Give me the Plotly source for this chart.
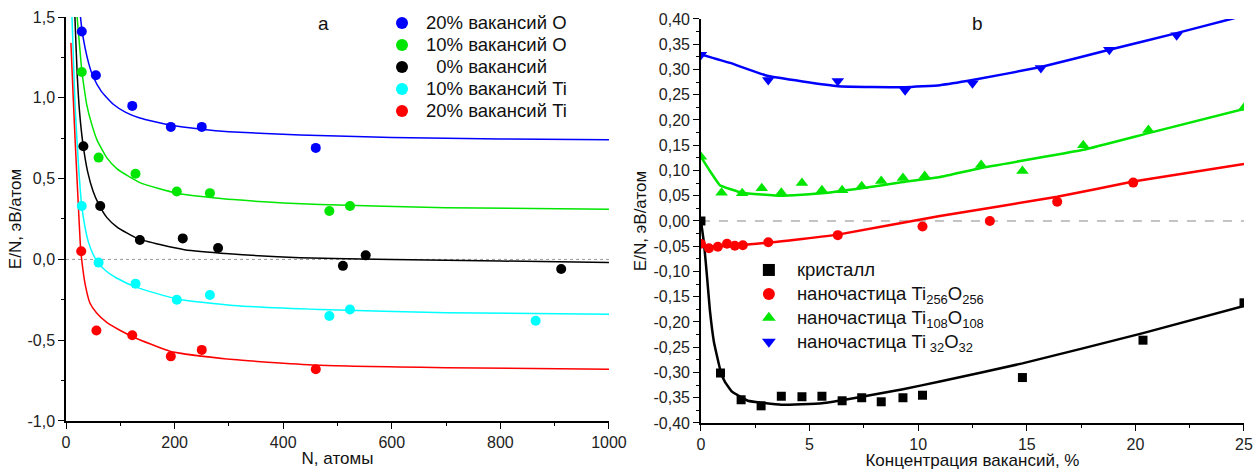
import plotly.graph_objects as go

# ---------------- Panel a: E/N vs N ----------------
a_names = ["20% вакансий O", "10% вакансий O", "\u00a0\u00a00% вакансий",
           "10% вакансий Ti", "20% вакансий Ti"]
a_colors = ["#0000FF", "#00E600", "#000000", "#00FFFF", "#FF0000"]

blue_N = [29, 55, 122, 193, 250, 460]
blue_E = [1.41, 1.14, 0.95, 0.82, 0.82, 0.69]
green_N = [29, 60, 128, 204, 265, 485, 523]
green_E = [1.16, 0.63, 0.53, 0.42, 0.41, 0.30, 0.33]
black_N = [32, 63, 136, 215, 280, 510, 552, 912]
black_E = [0.70, 0.33, 0.12, 0.13, 0.07, -0.04, 0.025, -0.06]
cyan_N = [29, 60, 128, 204, 265, 485, 523, 865]
cyan_E = [0.33, -0.02, -0.15, -0.25, -0.22, -0.35, -0.31, -0.38]
red_N = [28, 56, 122, 193, 250, 460]
red_E = [0.05, -0.44, -0.47, -0.60, -0.56, -0.68]

# fitted curves
blue_fit_N = [23, 26, 29, 35, 42, 50, 65, 87, 110, 136, 193, 250, 300, 431, 600, 800, 1000]
blue_fit_E = [1.62, 1.52, 1.43, 1.31, 1.21, 1.13, 1.04, 0.96, 0.91, 0.875, 0.83, 0.805, 0.79,
              0.77, 0.755, 0.745, 0.74]
green_fit_N = [19, 20.5, 24, 29, 33, 38, 47, 57, 75, 94, 136, 204, 308, 468, 700, 1000]
green_fit_E = [1.60, 1.50, 1.36, 1.17, 1.07, 0.96, 0.84, 0.74, 0.63, 0.56, 0.475, 0.41, 0.37,
               0.34, 0.32, 0.31]
black_fit_N = [15.5, 16.6, 20.8, 25, 31, 40, 50, 59, 75, 94, 131, 175, 218, 300, 431, 600, 800, 1000]
black_fit_E = [1.60, 1.48, 1.13, 0.91, 0.72, 0.54, 0.42, 0.35, 0.26, 0.20, 0.13, 0.09, 0.06,
               0.035, 0.01, 0.0, -0.01, -0.02]
cyan_fit_N = [10, 11, 14, 17, 23, 29, 35, 41, 50, 59, 75, 93, 128, 204, 308, 468, 700, 1000]
cyan_fit_E = [1.62, 1.50, 1.20, 0.93, 0.58, 0.33, 0.20, 0.11, 0.03, -0.02, -0.075, -0.115,
              -0.17, -0.245, -0.285, -0.31, -0.33, -0.34]
red_fit_N = [9, 13, 17, 22, 27, 31, 35, 44, 56, 75, 100, 124, 193, 308, 468, 700, 1000]
red_fit_E = [1.34, 1.02, 0.72, 0.38, 0.06, -0.06, -0.15, -0.27, -0.33, -0.39, -0.44, -0.48,
             -0.57, -0.62, -0.655, -0.67, -0.68]

a_pts = [(blue_N, blue_E), (green_N, green_E), (black_N, black_E), (cyan_N, cyan_E), (red_N, red_E)]
a_fits = [(blue_fit_N, blue_fit_E), (green_fit_N, green_fit_E), (black_fit_N, black_fit_E),
          (cyan_fit_N, cyan_fit_E), (red_fit_N, red_fit_E)]

a_xticks = [0, 200, 400, 600, 800, 1000]
a_xlabels = ["0", "200", "400", "600", "800", "1000"]
a_yticks = [-1.0, -0.5, 0.0, 0.5, 1.0, 1.5]
a_ylabels = ["-1,0", "-0,5", "0,0", "0,5", "1,0", "1,5"]

# ---------------- Panel b: E/N vs vacancy concentration ----------------
b_names = ["кристалл",
           "наночастица Ti<sub>256</sub>O<sub>256</sub>",
           "наночастица Ti<sub>108</sub>O<sub>108</sub>",
           "наночастица Ti<sub> 32</sub>O<sub>32</sub>"]
b_colors = ["#000000", "#FF0000", "#00E600", "#0000FF"]
b_symbols = ["square", "circle", "triangle-up", "triangle-down"]
b_sizes = [9, 10, 11, 11]

cryst_c = [0, 0.9, 1.85, 2.77, 3.7, 4.65, 5.57, 6.5, 7.4, 8.3, 9.3, 10.2, 14.8, 20.35, 25]
cryst_E = [0.0, -0.301, -0.354, -0.366, -0.347, -0.348, -0.347, -0.356, -0.350, -0.358,
           -0.350, -0.345, -0.310, -0.236, -0.162]
np256_c = [0, 0.37, 0.78, 1.2, 1.56, 1.93, 3.1, 6.3, 10.2, 13.3, 16.4, 19.9]
np256_E = [-0.045, -0.054, -0.051, -0.045, -0.049, -0.048, -0.042, -0.028, -0.011, 0.0, 0.038, 0.076]
np108_c = [0, 0.95, 1.9, 2.8, 3.7, 4.65, 5.57, 6.5, 7.4, 8.3, 9.3, 10.3, 12.9, 14.8, 17.6, 20.6, 25]
np108_E = [0.127, 0.056, 0.055, 0.065, 0.056, 0.075, 0.061, 0.061, 0.069, 0.079, 0.085, 0.089,
           0.111, 0.099, 0.150, 0.180, 0.224]
np32_c = [0, 3.1, 6.3, 9.4, 12.5, 15.65, 18.8, 21.9]
np32_E = [0.329, 0.279, 0.277, 0.259, 0.273, 0.303, 0.339, 0.368]

cryst_fit_c = [0, 0.14, 0.28, 0.41, 0.6, 0.92, 1.1, 1.43, 2.16, 3.7, 5.57, 7.4, 9.3, 11, 14.8, 20.35, 25]
cryst_fit_E = [0.0, -0.044, -0.11, -0.176, -0.24, -0.30, -0.318, -0.338, -0.356, -0.364, -0.361,
               -0.348, -0.333, -0.318, -0.282, -0.222, -0.168]
np256_fit_c = [0, 0.5, 2, 3.1, 6.3, 11, 16.4, 19.9, 25]
np256_fit_E = [-0.048, -0.05, -0.047, -0.043, -0.027, 0.010, 0.048, 0.078, 0.113]
np108_fit_c = [0, 0.4, 0.87, 1.9, 3.7, 5.57, 7.4, 9.3, 11, 12.9, 17.6, 20.6, 25]
np108_fit_E = [0.127, 0.10, 0.071, 0.056, 0.050, 0.055, 0.065, 0.077, 0.087, 0.105, 0.141, 0.174, 0.222]
np32_fit_c = [0, 1.34, 3.1, 6.3, 9.4, 11, 12.5, 15.65, 18.8, 21.9, 24.4, 25]
np32_fit_E = [0.33, 0.313, 0.287, 0.267, 0.265, 0.269, 0.279, 0.305, 0.339, 0.372, 0.40, 0.407]

b_pts = [(cryst_c, cryst_E), (np256_c, np256_E), (np108_c, np108_E), (np32_c, np32_E)]
b_fits = [(cryst_fit_c, cryst_fit_E), (np256_fit_c, np256_fit_E),
          (np108_fit_c, np108_fit_E), (np32_fit_c, np32_fit_E)]

b_xticks = [0, 5, 10, 15, 20, 25]
b_xlabels = ["0", "5", "10", "15", "20", "25"]
b_yticks = [-0.40, -0.35, -0.30, -0.25, -0.20, -0.15, -0.10, -0.05, 0.0,
            0.05, 0.10, 0.15, 0.20, 0.25, 0.30, 0.35, 0.40]
b_ylabels = ["-0,40", "-0,35", "-0,30", "-0,25", "-0,20", "-0,15", "-0,10", "-0,05", "0,00",
             "0,05", "0,10", "0,15", "0,20", "0,25", "0,30", "0,35", "0,40"]

FONT = "Liberation Sans, Arial, sans-serif"
LEG_SPAN = '<span style="font-size:18.5px">{}</span>'
fig = go.Figure()

for (fx, fy), col in zip(a_fits, a_colors):
    fig.add_trace(go.Scatter(x=fx, y=fy, mode="lines",
                             line=dict(color=col, width=1.5, shape="spline", smoothing=0.5),
                             showlegend=False, xaxis="x", yaxis="y", hoverinfo="skip"))
for (px, py), col, nm in zip(a_pts, a_colors, a_names):
    fig.add_trace(go.Scatter(x=px, y=py, mode="markers", name=LEG_SPAN.format(nm),
                             marker=dict(color=col, size=10, symbol="circle"),
                             xaxis="x", yaxis="y", legend="legend"))

for (fx, fy), col in zip(b_fits, b_colors):
    fig.add_trace(go.Scatter(x=fx, y=fy, mode="lines",
                             line=dict(color=col, width=2.5, shape="spline", smoothing=0.3),
                             showlegend=False, xaxis="x2", yaxis="y2", hoverinfo="skip"))
for (px, py), col, nm, sym, sz in zip(b_pts, b_colors, b_names, b_symbols, b_sizes):
    fig.add_trace(go.Scatter(x=px, y=py, mode="markers", name=LEG_SPAN.format(nm),
                             marker=dict(color=col, size=sz, symbol=sym),
                             xaxis="x2", yaxis="y2", legend="legend2"))

axis_common = dict(showline=True, linecolor="black", linewidth=1.5, ticks="outside", ticklen=6,
                   tickwidth=1.2, tickcolor="black", showgrid=False, zeroline=False, mirror=False,
                   automargin=False,
                   tickfont=dict(family=FONT, size=16, color="#222"),
                   title_font=dict(family=FONT, size=17, color="#111"))

fig.update_layout(
    width=1260, height=470, margin=dict(l=0, r=0, t=0, b=0, autoexpand=False),
    paper_bgcolor="white", plot_bgcolor="white",
    font=dict(family=FONT, size=15, color="#111"),
    xaxis=dict(domain=[0.0524, 0.4833], range=[0, 1000], anchor="y",
               tickmode="array", tickvals=a_xticks, ticktext=a_xlabels,
               minor=dict(dtick=100, tick0=0, ticks="outside", ticklen=3, tickcolor="black"),
               title=dict(text="N, атомы", standoff=2), **axis_common),
    yaxis=dict(domain=[0.1043, 0.9638], range=[-1.0, 1.5], anchor="x",
               tickmode="array", tickvals=a_yticks, ticktext=a_ylabels,
               minor=dict(dtick=0.25, tick0=0, ticks="outside", ticklen=3, tickcolor="black"),
               title=dict(text="E/N, эВ/атом", standoff=2), **axis_common),
    xaxis2=dict(domain=[0.5563, 0.9873], range=[0, 25], anchor="y2",
                tickmode="array", tickvals=b_xticks, ticktext=b_xlabels,
                minor=dict(dtick=2.5, tick0=0, ticks="outside", ticklen=3, tickcolor="black"),
                title=dict(text="Концентрация вакансий, %", standoff=2), **axis_common),
    yaxis2=dict(domain=[0.1, 0.9596], range=[-0.40, 0.40], anchor="x2",
                tickmode="array", tickvals=b_yticks, ticktext=b_ylabels,
                minor=dict(dtick=0.025, tick0=0, ticks="outside", ticklen=3, tickcolor="black"),
                title=dict(text="E/N, эВ/атом", standoff=3), **axis_common),
    legend=dict(x=0.300, y=0.985, xanchor="left", yanchor="top", bgcolor="rgba(0,0,0,0)",
                font=dict(family=FONT, size=14.6, color="#111"), tracegroupgap=0,
                itemsizing="constant", itemwidth=38),
    legend2=dict(x=0.588, y=0.4617, xanchor="left", yanchor="top", bgcolor="rgba(0,0,0,0)",
                 font=dict(family=FONT, size=16.1, color="#111"), tracegroupgap=0,
                 itemsizing="constant", itemwidth=46),
    shapes=[
        dict(type="line", xref="x domain", yref="y", x0=0, x1=1, y0=0, y1=0,
             line=dict(color="#999", width=1, dash="dot"), layer="below"),
        dict(type="line", xref="x2 domain", yref="y2", x0=0, x1=1, y0=0, y1=0,
             line=dict(color="#888", width=1, dash="dash"), layer="below"),
    ],
    annotations=[
        dict(text="a", xref="paper", yref="paper", x=0.2571, y=0.949, xanchor="center",
             yanchor="middle", showarrow=False, font=dict(family=FONT, size=19, color="#111")),
        dict(text="b", xref="paper", yref="paper", x=0.7754, y=0.949, xanchor="center",
             yanchor="middle", showarrow=False, font=dict(family=FONT, size=19, color="#111")),
    ],
)

fig.write_html("out.html")
